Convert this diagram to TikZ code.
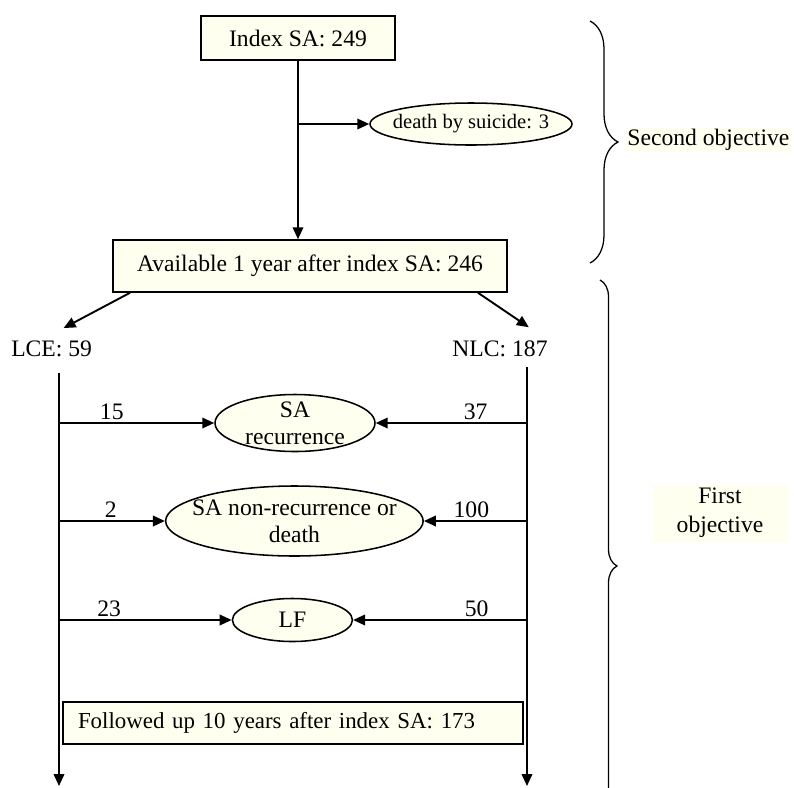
\documentclass[tikz,border=0pt]{standalone}
\usepackage{fontspec}
\setmainfont{Liberation Serif}
\usetikzlibrary{arrows.meta,shapes.geometric,decorations.pathreplacing}
\definecolor{cream}{RGB}{255,255,240}

\begin{document}
\begin{tikzpicture}[
		font=\fontsize{16.8}{19.2}\selectfont,
		box/.style={shape=rectangle,draw=black,fill=cream,line width=1.1pt},
		oval/.style={shape=ellipse,draw=black,fill=cream,line width=1.1pt,inner xsep=-8pt,inner ysep=-4pt,align=center},
		arr/.style={draw=black,line width=1.35pt,-{Triangle[length=8.5pt,width=7.5pt]}},
		num/.style={above,inner sep=2pt},
		objective/.style={fill=cream,inner sep=1pt,align=center},
		curly/.style={draw=black,line width=0.9pt,decorate,decoration={brace,amplitude=#1}}
	]
		\useasboundingbox (0,0) rectangle (19.85,-19.675);
		
		\node[box,minimum width=4.85cm,minimum height=1.1cm] (I) at (7.45,-0.95) {Index SA: 249};
		\node[oval,minimum width=5.05cm,minimum height=1.05cm,font=\fontsize{14.6}{17}\selectfont] (D) at (11.775,-3.1) {death by suicide: 3};
		\node[box,minimum width=9.85cm,minimum height=1.3cm] (A) at (7.75,-6.65) {Available 1 year after index SA: 246};
		\node (LCE) at (1.29,-8.725) {LCE: 59};
		\node (NLC) at (12.5,-8.725) {NLC: 187};
		\node[oval,minimum width=4cm,minimum height=1.425cm] (E1) at (7.375,-10.575) {SA\\recurrence};
		\node[oval,minimum width=6.425cm,minimum height=1.75cm] (E2) at (7.36,-13.025) {SA non-recurrence or\\death};
		\node[oval,minimum width=3cm,minimum height=1.075cm] (E3) at (7.31,-15.5) {LF};
		\node[box,text width=10.75cm,inner xsep=0.375cm,minimum height=1.05cm,align=left,font=\fontsize{16.3}{19}\selectfont] (F) at (7.325,-18.075) {Followed up 10 years after index SA: 173};
		\node[objective] (S) at (17.71,-3.5) {Second objective};
		\node[objective,minimum width=3.375cm,minimum height=1.425cm,font=\fontsize{16.8}{20.6}\selectfont] (FO) at (18,-12.825) {First\\objective};
		
		\coordinate (J) at (I.south |- D.west);
		\coordinate (L0) at (1.475,-9.325);
		\coordinate (L1) at (1.475,-19.65);
		\coordinate (R0) at (13.175,-9.175);
		\coordinate (R1) at (13.175,-19.65);
		\coordinate (b1) at (14.75,-0.525);
		\coordinate (b2) at (14.75,-6.575);
		\coordinate (b3) at (15,-7);
		\coordinate (b4) at (15,-21.3);
		
		\path (I.south) edge[arr] (I.south |- A.north);
		\path (J) edge[arr] (D);
		\path ([xshift=-4.5cm]A.south) edge[arr] ([shift={(0.3,0.2)}]LCE.north);
		\path ([xshift=4.2cm]A.south) edge[arr] ([shift={(0.72,0.22)}]NLC.north);
		\path (L0) edge[arr] (L1);
		\path (R0) edge[arr] (R1);
		
		\path (L0 |- E1) edge[arr] node[num,pos=.34] (n15) {15} (E1);
		\path (R0 |- E1) edge[arr] node[num,pos=.34] (n37) {37} (E1);
		\path (L0 |- E2) edge[arr] node[num,pos=.49] (n2) {2} (E2);
		\path (R0 |- E2) edge[arr] node[num,pos=.54] (n100) {100} (E2);
		\path (L0 |- E3) edge[arr] node[num,pos=.29] (n23) {23} (E3);
		\path (R0 |- E3) edge[arr] node[num,pos=.29] (n50) {50} (E3);
		
		\draw[curly=0.7cm] (b1) -- (b2);
		\draw[curly=0.425cm] (b3) -- (b4);
\end{tikzpicture}
\end{document}
